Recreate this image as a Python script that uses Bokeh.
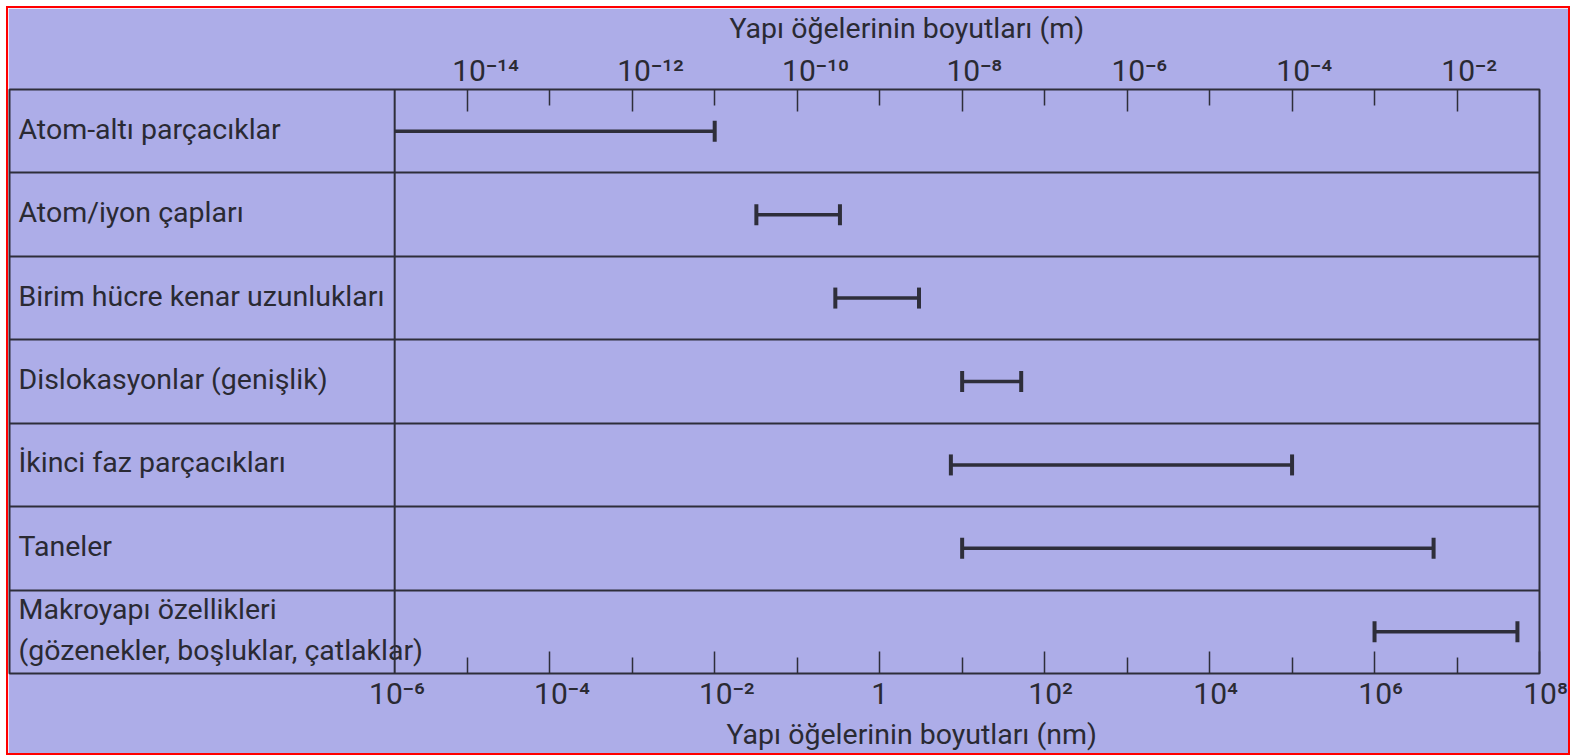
import math
from bokeh.plotting import figure
from bokeh.models import (Range1d, LogAxis, LogScale, FixedTicker, CustomJSTickFormatter,
                          Grid, Span, Title, ColumnDataSource)
from bokeh.core.properties import value
from bokeh.embed import file_html
from bokeh.resources import INLINE

# ---------------- data ----------------
categories = [
    "Atom-altı parçacıklar",
    "Atom/iyon çapları",
    "Birim hücre kenar uzunlukları",
    "Dislokasyonlar (genişlik)",
    "İkinci faz parçacıkları",
    "Taneler",
    "Makroyapı özellikleri\n(gözenekler, boşluklar, çatlaklar)",
]
SCALE_MIN_NM = 10 ** -5.88          # left end of the size scale
range_start_nm = [SCALE_MIN_NM, 0.032, 0.29, 10.0, 7.3, 10.0, 1.0e6]
range_end_nm = [0.01, 0.33, 3.0, 52.0, 1.0e5, 5.2e6, 5.4e7]
start_capped = [False, True, True, True, True, True, True]

nm_major_exp = [-6, -4, -2, 0, 2, 4, 6, 8]
nm_minor_exp = [-5, -3, -1, 1, 3, 5, 7]
m_major_exp = [-14, -12, -10, -8, -6, -4, -2]
m_minor_exp = [-13, -11, -9, -7, -5, -3]
NM_PER_M = 1e9

top_title = "Yapı öğelerinin boyutları (m)"
bottom_title = "Yapı öğelerinin boyutları (nm)"

# ---------------- style ----------------
BG = "#ADADE8"
LINE = "#2e2e3a"
TEXT = "#2a2a33"
FONT = "Roboto"
XMIN_NM = 10 ** -10.55   # frame left edge (label column start)
XMAX_NM = 1e8

p = figure(width=1560, height=745, x_axis_type="log",
           x_range=Range1d(XMIN_NM, XMAX_NM), y_range=Range1d(7, 0),
           x_axis_location=None, y_axis_location=None,
           toolbar_location=None, output_backend="svg",
           min_border_left=1, min_border_right=29,
           min_border_top=80, min_border_bottom=79)
p.background_fill_color = BG
p.border_fill_color = BG
p.outline_line_color = LINE
p.outline_line_width = 2
p.styles = {"margin": "8px 0 0 8px", "outline": "2px solid #ff0000"}
for g in p.grid:
    g.visible = False

p.extra_x_ranges = {"m": Range1d(XMIN_NM / NM_PER_M, XMAX_NM / NM_PER_M)}
p.extra_x_scales = {"m": LogScale()}

fmt_code = r"""
const sup = {"-": "\u207b", "0": "\u2070", "1": "\u00b9", "2": "\u00b2", "3": "\u00b3",
             "4": "\u2074", "5": "\u2075", "6": "\u2076", "7": "\u2077", "8": "\u2078", "9": "\u2079"};
const e = Math.round(Math.log10(tick));
if (e === 0) { return "1"; }
const s = String(e);
let out = "";
for (const c of s) { out += sup[c]; }
return "\u2009".repeat(2 * s.length) + "10" + out;
"""


def style_axis(ax):
    ax.axis_line_color = None
    ax.major_tick_line_color = LINE
    ax.minor_tick_line_color = LINE
    ax.major_tick_line_width = 1.5
    ax.minor_tick_line_width = 1.5
    ax.major_tick_in = 22
    ax.major_tick_out = 0
    ax.minor_tick_in = 16
    ax.minor_tick_out = 0
    ax.major_label_text_font = FONT
    ax.major_label_text_font_size = "30px"
    ax.major_label_text_color = TEXT


# top axis (metres)
top_axis = LogAxis(x_range_name="m",
                   ticker=FixedTicker(ticks=[10.0 ** e for e in m_major_exp],
                                      minor_ticks=[10.0 ** e for e in m_minor_exp]),
                   formatter=CustomJSTickFormatter(code=fmt_code))
style_axis(top_axis)
top_axis.major_label_standoff = 2
p.add_layout(top_axis, "above")
p.add_layout(Title(text=top_title, align="left", offset=720, text_font=FONT,
                   text_font_size="28.5px", text_font_style="normal", text_color=TEXT,
                   vertical_align="top", standoff=6), "above")

# bottom axis (nanometres): tick marks
bot_ticks = LogAxis(ticker=FixedTicker(ticks=[10.0 ** e for e in nm_major_exp if e > -6],
                                       minor_ticks=[10.0 ** e for e in nm_minor_exp]),
                    formatter=CustomJSTickFormatter(code='return "";'))
style_axis(bot_ticks)
bot_ticks.major_label_text_font_size = "0px"
bot_ticks.major_label_standoff = 0
p.add_layout(bot_ticks, "below")

# bottom axis labels
bot_labels = LogAxis(ticker=FixedTicker(ticks=[10.0 ** e for e in nm_major_exp], minor_ticks=[]),
                     formatter=CustomJSTickFormatter(code=fmt_code))
style_axis(bot_labels)
bot_labels.major_tick_line_color = None
bot_labels.minor_tick_line_color = None
bot_labels.major_tick_in = 0
bot_labels.minor_tick_in = 0
bot_labels.major_label_standoff = 2
p.add_layout(bot_labels, "below")
p.add_layout(Title(text=bottom_title, align="left", offset=717, text_font=FONT,
                   text_font_size="28.5px", text_font_style="normal", text_color=TEXT,
                   vertical_align="bottom", standoff=5), "below")

# row separators and label column separator
p.add_layout(Grid(dimension=1, ticker=FixedTicker(ticks=list(range(1, len(categories)))),
                  grid_line_color=LINE, grid_line_width=2))
p.add_layout(Span(location=SCALE_MIN_NM, dimension="height", line_color=LINE, line_width=2))

rows = [i + 0.5 for i in range(len(categories))]

# labels
lab_src = ColumnDataSource(dict(x=[XMIN_NM] * len(categories), y=rows, text=categories))
p.text(x="x", y="y", text="text", source=lab_src, x_offset=9, y_offset=-2,
       text_font=value(FONT), text_font_size="28.5px", text_baseline="middle",
       text_align="left", text_color=TEXT, text_line_height=1.25)

# bars
bar_src = ColumnDataSource(dict(x0=range_start_nm, x1=range_end_nm, y=rows))
p.segment(x0="x0", x1="x1", y0="y", y1="y", source=bar_src, line_color=LINE, line_width=3.5)

cap_x = list(range_end_nm) + [s for s, c in zip(range_start_nm, start_capped) if c]
cap_y = list(rows) + [r for r, c in zip(rows, start_capped) if c]
p.scatter(x=cap_x, y=cap_y, marker="dash", angle=math.pi / 2, size=21,
          line_color=LINE, line_width=4)

open("out.html", "w").write(file_html(p, INLINE))
